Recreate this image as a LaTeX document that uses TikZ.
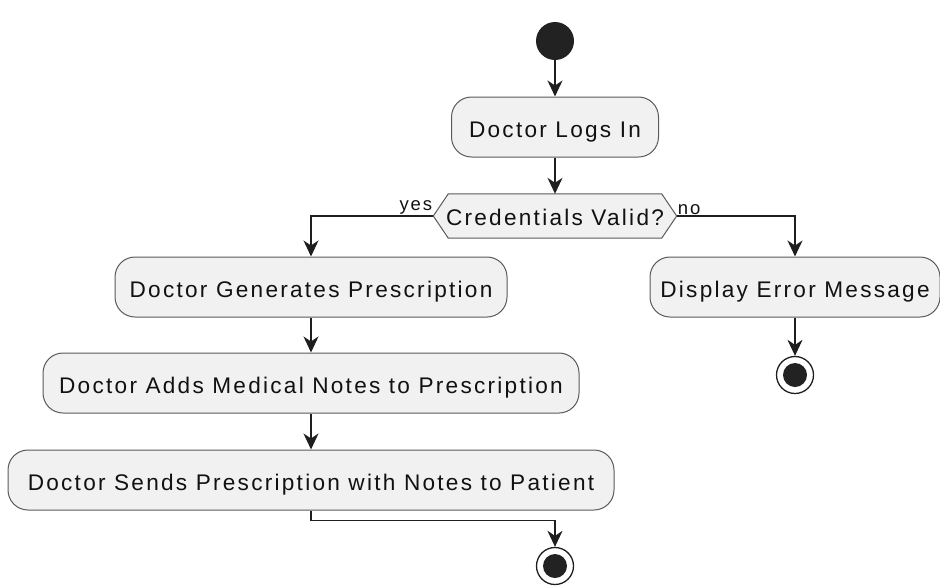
\documentclass[tikz,border=0pt]{standalone}
\usepackage{fontspec}
\setmainfont{Liberation Sans}[LetterSpace=10]
\usetikzlibrary{arrows.meta,backgrounds}
\definecolor{boxfill}{HTML}{F1F1F1}
\definecolor{boxline}{HTML}{5A5A5A}
\definecolor{lin}{HTML}{1E1E1E}
\definecolor{txt}{HTML}{111111}
\definecolor{dot}{HTML}{222222}
\begin{document}
\begin{tikzpicture}[x=1pt,y=-1pt,
  act/.style={draw=boxline, line width=1pt, fill=boxfill, rounded corners=20pt,
    minimum height=60pt, inner sep=0pt, text height=20pt, text depth=0pt,
    text=txt, font=\fontsize{22.6}{26}\selectfont},
  dectext/.style={minimum width=243pt, minimum height=44pt, inner sep=0pt,
    text height=19pt, text depth=0pt, text=txt, font=\fontsize{22.6}{26}\selectfont},
  hexa/.style={draw=boxline, line width=1pt, fill=boxfill},
  flow/.style={draw=lin, line width=1.5pt, -{Stealth[length=16pt,width=15pt,inset=5pt]}},
  lbl/.style={inner sep=1pt, text=txt, font=\fontsize{18.5}{20}\selectfont},
  startdot/.style={circle, fill=dot, minimum size=38pt, inner sep=0pt},
  enddot/.style={circle, draw=lin, line width=1.3pt, fill=white, minimum size=37pt, inner sep=0pt,
    path picture={\fill[dot] (path picture bounding box.center) circle[radius=12pt];}}]
\useasboundingbox (0,0) rectangle (940,587);

% activity nodes
\node[startdot] (start) at (555,41) {};
\node[act, minimum width=207pt] (login) at (555,127) {Doctor Logs In};
\node[dectext] (dec) at (555,216) {Credentials Valid?};
\node[act, minimum width=392pt] (gen) at (311,287) {Doctor Generates Prescription};
\node[act, minimum width=290pt] (err) at (795,287) {Display Error Message};
\node[act, minimum width=536pt] (notes) at (311,383) {Doctor Adds Medical Notes to Prescription};
\node[act, minimum width=606pt] (send) at (311,480) {Doctor Sends Prescription with Notes to Patient};
\node[enddot] (end2) at (795,375) {};
\node[enddot] (end1) at (555,566) {};

% hexagonal decision outline behind its text
\begin{scope}[on background layer]
  \draw[hexa] (dec.west) -- ([xshift=15pt]dec.north west) -- ([xshift=-15pt]dec.north east)
    -- (dec.east) -- ([xshift=-15pt]dec.south east) -- ([xshift=15pt]dec.south west) -- cycle;
\end{scope}

% branch labels
\node[lbl, anchor=south east] (yes) at (dec.west) {yes};
\node[lbl, anchor=south west] (no) at (dec.east) {no};

% connectors
\draw[flow] (start) -- (login);
\draw[flow] (login) -- (dec);
\draw[flow] (dec.west) -| (gen.north);
\draw[flow] (dec.east) -| (err.north);
\draw[flow] (err) -- (end2);
\draw[flow] (gen) -- (notes);
\draw[flow] (notes) -- (send);
\draw[flow] (send.south) -- ++(0,10) -| (end1.north);
\end{tikzpicture}
\end{document}
